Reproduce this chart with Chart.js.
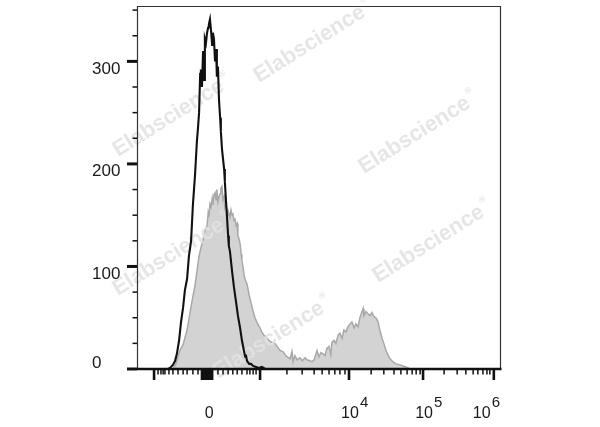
<!DOCTYPE html>
<html>
<head>
<meta charset="utf-8">
<script src="https://cdn.jsdelivr.net/npm/chart.js@4.4.1/dist/chart.umd.min.js"></script>
<style>
  html, body { margin: 0; padding: 0; background: #fff; }
  canvas { display: block; }
</style>
</head>
<body>
<canvas id="histo" width="600" height="427"></canvas>
<script>
// ─── DATA (x in display channels 0..1000, y in cell counts) ───
const blackChannel = [0, 85, 91, 99, 105, 110, 116, 121, 127, 132, 138, 143, 149, 154, 160, 165, 168, 171, 174, 176, 179, 182, 185, 187, 190, 193, 196, 198, 201, 204, 207, 209, 212, 215, 218, 220, 223, 226, 229, 231, 234, 237, 240, 242, 245, 248, 251, 253, 256, 262, 267, 273, 278, 284, 289, 295, 298, 300, 303, 309, 314, 320, 328, 336, 344, 353, 1000];
const blackCounts  = [0, 0, 1, 4, 8, 15, 28, 45, 60, 77, 88, 110, 125, 160, 190, 222, 235, 250, 288, 292, 275, 310, 282, 322, 318, 328, 333, 336, 341, 330, 316, 328, 322, 300, 312, 285, 295, 262, 245, 232, 215, 205, 195, 183, 165, 148, 130, 120, 115, 95, 80, 65, 52, 40, 28, 17, 12, 14, 8, 5, 5, 3, 2, 1, 2, 0, 0];

const grayChannel = [0, 99, 107, 118, 127, 138, 146, 152, 160, 165, 171, 176, 182, 187, 193, 196, 198, 201, 204, 207, 209, 212, 215, 218, 220, 223, 226, 229, 231, 234, 237, 240, 242, 245, 248, 251, 253, 256, 259, 262, 264, 267, 270, 273, 276, 278, 281, 284, 287, 289, 292, 295, 298, 303, 309, 314, 320, 325, 331, 339, 344, 350, 358, 366, 372, 380, 386, 394, 402, 408, 413, 422, 427, 430, 435, 441, 449, 455, 463, 468, 477, 482, 488, 496, 501, 507, 512, 518, 523, 529, 534, 537, 543, 548, 554, 559, 565, 570, 576, 581, 587, 592, 598, 603, 609, 614, 620, 623, 625, 631, 636, 642, 647, 653, 658, 664, 669, 675, 680, 686, 691, 697, 705, 714, 725, 733, 741, 752, 1000];
const grayCounts  = [0, 0, 5, 18, 24, 38, 55, 67, 82, 95, 110, 118, 126, 135, 140, 152, 148, 161, 158, 166, 160, 170, 172, 165, 175, 163, 168, 171, 176, 178, 165, 168, 158, 162, 155, 150, 152, 148, 155, 150, 152, 145, 146, 140, 142, 130, 127, 122, 112, 106, 99, 92, 87, 83, 72, 65, 56, 50, 45, 40, 36, 33, 30, 27, 26, 25, 22, 18, 17, 14, 12, 10, 17, 7, 13, 9, 11, 8, 11, 9, 8, 7, 9, 18, 12, 16, 15, 13, 20, 22, 14, 26, 28, 25, 33, 35, 30, 38, 36, 41, 44, 46, 40, 44, 41, 50, 56, 59, 52, 56, 54, 52, 55, 51, 50, 46, 38, 30, 25, 18, 14, 10, 7, 5, 4, 3, 2, 0, 0];

// axis ticks (biexponential display, channel positions)
const xMajorTicks = [47, 179, 185, 190, 196, 201, 207, 339, 584, 788, 983];
const xMinorTicks = [58, 66, 72, 77, 88, 99, 113, 127, 138, 154, 168, 223, 237, 251, 264, 276, 289, 303, 311, 320, 328,
                     413, 455, 488, 510, 529, 545, 559, 573, 645, 680, 708, 727, 744, 758, 769, 780,
                     846, 882, 906, 926, 939, 953, 964, 972];
const xLabelTicks = [196, 584, 788, 983];
const xLabelBase  = ['0', '10', '10', '10'];
const xLabelExp   = ['', '4', '5', '6'];

const yMajorTicks = [0, 100, 200, 300];
const yMinorTicks = [25, 50, 75, 125, 150, 175, 225, 250, 275, 325, 350];
const yTickLabels = ['0', '100', '200', '300'];

const watermarkText = 'Elabscience';

// ─── STYLE ───
const FONT = "'Liberation Sans', Arial, Helvetica, sans-serif";
const INK = '#1a1a1a';
const WATERMARKS = [[313, 42], [172, 116], [418, 133], [432, 242], [172, 255], [272, 338]];

// ─── PLUGINS ─────────────────────────────────────────
const watermarkPlugin = {
  id: 'watermark',
  afterDatasetDraw(chart, args) {
    if (args.index !== 1) return; // right after the gray histogram, under the black trace
    const ctx = chart.ctx;
    ctx.save();
    ctx.globalAlpha = 0.85;
    ctx.fillStyle = '#e2e2e2';
    ctx.textBaseline = 'middle';
    WATERMARKS.forEach(([cx, cy]) => {
      ctx.save();
      ctx.translate(cx, cy);
      ctx.rotate(-32 * Math.PI / 180);
      ctx.font = `bold 22px ${FONT}`;
      const w = ctx.measureText(watermarkText).width;
      ctx.textAlign = 'left';
      ctx.fillText(watermarkText, -w / 2 - 4, 0);
      ctx.font = `bold 9px ${FONT}`;
      ctx.fillText('®', w / 2 - 2, -9);
      ctx.restore();
    });
    ctx.restore();
  }
};

const axesPlugin = {
  id: 'cytoAxes',
  afterDraw(chart) {
    const { ctx, chartArea: a, scales: { x, y } } = chart;
    ctx.save();

    // frame
    ctx.strokeStyle = '#333';
    ctx.lineWidth = 1.2;
    ctx.beginPath();
    ctx.moveTo(a.left + 0.5, a.bottom);
    ctx.lineTo(a.left + 0.5, a.top + 0.5);
    ctx.lineTo(a.right + 0.5, a.top + 0.5);
    ctx.lineTo(a.right + 0.5, a.bottom);
    ctx.stroke();
    ctx.strokeStyle = '#111';
    ctx.lineWidth = 2.6;
    ctx.beginPath();
    ctx.moveTo(a.left, a.bottom);
    ctx.lineTo(a.right + 1.5, a.bottom);
    ctx.stroke();

    // x ticks
    const xTick = (v, len, lw) => {
      const px = x.getPixelForValue(v);
      ctx.lineWidth = lw;
      ctx.beginPath();
      ctx.moveTo(px, a.bottom);
      ctx.lineTo(px, a.bottom + len);
      ctx.stroke();
    };
    xMinorTicks.forEach(v => xTick(v, 5.5, 1.5));
    xMajorTicks.forEach(v => xTick(v, 11, 2.6));

    // y ticks
    const yTick = (v, len, lw) => {
      const py = y.getPixelForValue(v);
      ctx.lineWidth = lw;
      ctx.beginPath();
      ctx.moveTo(a.left - len, py);
      ctx.lineTo(a.left, py);
      ctx.stroke();
    };
    yMinorTicks.forEach(v => yTick(v, 4.5, 1.5));
    yMajorTicks.forEach(v => yTick(v, 10, 3));

    // y labels: hang below the tick, the lowest sits above it
    ctx.fillStyle = INK;
    ctx.font = `17px ${FONT}`;
    ctx.textAlign = 'left';
    ctx.textBaseline = 'alphabetic';
    yMajorTicks.forEach((v, i) => {
      const py = y.getPixelForValue(v);
      const base = v === y.min ? py - 1 : py + 12.5;
      ctx.fillText(yTickLabels[i], 92, base);
    });

    // x labels with superscript exponents
    const baseY = a.bottom + 49;
    xLabelTicks.forEach((v, i) => {
      const px = x.getPixelForValue(v);
      ctx.font = `16px ${FONT}`;
      const wb = ctx.measureText(xLabelBase[i]).width;
      ctx.font = `15px ${FONT}`;
      const we = xLabelExp[i] ? ctx.measureText(xLabelExp[i]).width + 1 : 0;
      let left = px - wb / 2 + 1;
      if (left + wb + we > a.right) left = a.right - wb - we;
      ctx.font = `16px ${FONT}`;
      ctx.fillText(xLabelBase[i], left, baseY);
      if (xLabelExp[i]) {
        ctx.font = `15px ${FONT}`;
        ctx.fillText(xLabelExp[i], left + wb + 1, baseY - 11.5);
      }
    });

    ctx.restore();
  }
};

// ─── CHART ───────────────────────────────────────────
const toPoints = (xs, ys) => xs.map((v, i) => ({ x: v, y: ys[i] }));

new Chart(document.getElementById('histo').getContext('2d'), {
  type: 'line',
  data: {
    datasets: [
      {
        label: 'Control',
        data: toPoints(blackChannel, blackCounts),
        borderColor: '#111',
        borderWidth: 2.1,
        fill: false,
        pointRadius: 0,
        tension: 0,
        order: 0
      },
      {
        label: 'Stained',
        data: toPoints(grayChannel, grayCounts),
        borderColor: '#a9a9a9',
        backgroundColor: '#d3d3d3',
        borderWidth: 1.5,
        fill: 'origin',
        pointRadius: 0,
        tension: 0,
        order: 1
      }
    ]
  },
  options: {
    responsive: false,
    animation: false,
    layout: { padding: { left: 137, right: 100, top: 6, bottom: 58 } },
    plugins: { legend: { display: false }, tooltip: { enabled: false } },
    scales: {
      x: { type: 'linear', min: 0, max: 1000, display: false },
      y: { type: 'linear', min: 0, max: 354, display: false }
    }
  },
  plugins: [watermarkPlugin, axesPlugin]
});
</script>
</body>
</html>
